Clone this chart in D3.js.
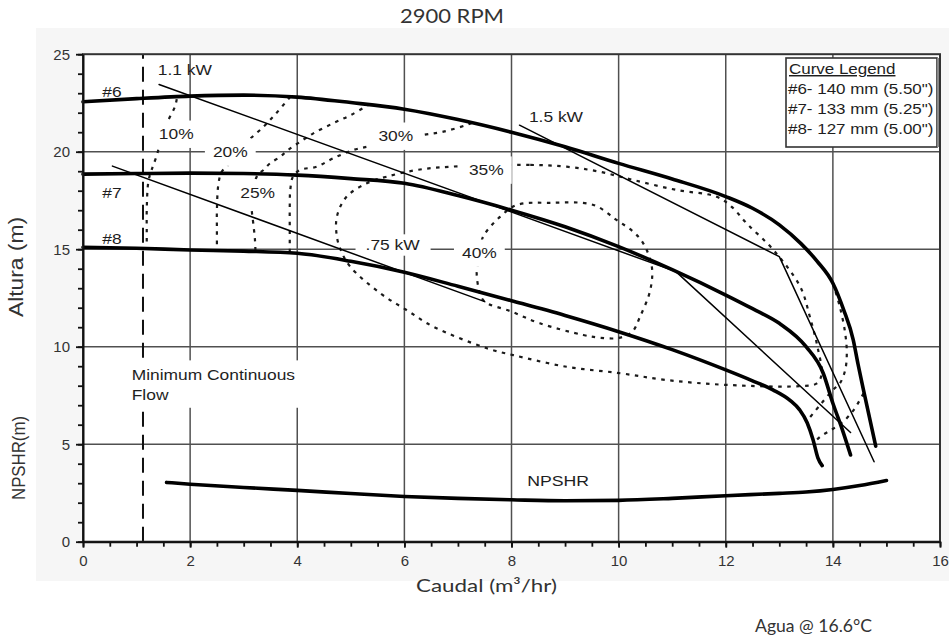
<!DOCTYPE html>
<html>
<head>
<meta charset="utf-8">
<script src="https://cdn.jsdelivr.net/npm/d3@7"></script>
<style>
  body { margin: 0; background: #fff; }
  svg { display: block; }
</style>
</head>
<body>
<svg></svg>
<script>
// Axis ticks
const flowTicks = [0, 2, 4, 6, 8, 10, 12, 14, 16];
const headTicks = [0, 5, 10, 15, 20, 25];
const flowGrid = [2, 4, 6, 8, 10, 12, 14];
const headGrid = [5, 10, 15, 20];

// Head curves [flow m3/hr, head m]
const curve6 = [[0, 22.56], [1, 22.72], [2, 22.85], [3, 22.9], [4, 22.8], [5, 22.52], [6, 22.18], [7, 21.65], [8, 21.0], [9, 20.25], [10, 19.4], [11, 18.6], [12, 17.7], [12.5, 17.1], [13, 16.25], [13.4, 15.3], [13.7, 14.4], [14.0, 13.25], [14.2, 11.9], [14.38, 10.35], [14.47, 9.1], [14.57, 7.8], [14.8, 4.9]];
const curve7 = [[0, 18.85], [1, 18.88], [2, 18.9], [3, 18.88], [4, 18.8], [5, 18.62], [6, 18.38], [7, 17.75], [8, 17.0], [9, 16.15], [10, 15.13], [11, 13.95], [12, 12.65], [12.5, 11.95], [13, 11.2], [13.5, 10.0], [13.82, 8.64], [14.0, 7.1], [14.17, 5.8], [14.33, 4.45]];
const curve8 = [[0, 15.1], [1, 15.05], [2, 14.96], [3, 14.9], [4, 14.79], [5, 14.38], [6, 13.82], [7, 13.1], [8, 12.36], [9, 11.6], [10, 10.77], [11, 9.85], [12, 8.81], [12.5, 8.25], [12.88, 7.79], [13.2, 7.25], [13.38, 6.76], [13.52, 6.1], [13.63, 5.23], [13.72, 4.3], [13.8, 3.9]];
const npshr = [[1.56, 3.04], [2, 2.95], [3, 2.78], [4, 2.63], [5, 2.47], [6, 2.32], [7, 2.22], [8, 2.15], [9, 2.1], [10, 2.12], [11, 2.22], [12, 2.36], [13, 2.48], [13.5, 2.55], [14, 2.68], [14.5, 2.88], [15, 3.14]];

// Power lines
const power075 = [[0.55, 19.26], [7.5, 12.31]];
const power11 = [[1.42, 23.45], [11.07, 13.85], [14.33, 5.6]];
const power15 = [[8.15, 21.36], [13.0, 14.62], [14.77, 4.1]];

// Efficiency lines
const eff10 = [[1.75, 22.7], [1.72, 22.34], [1.59, 21.6], [1.48, 20.9], [1.38, 19.83], [1.28, 19.06], [1.22, 18.46], [1.19, 17.0], [1.19, 16.0], [1.19, 15.1]];
const eff20 = [[3.87, 22.82], [3.6, 21.95], [3.37, 21.28], [3.1, 20.6], [2.88, 19.9], [2.7, 19.3], [2.59, 18.97], [2.53, 18.38], [2.5, 17.0], [2.5, 16.0], [2.5, 14.96]];
const eff25 = [[5.36, 22.45], [5.0, 21.88], [4.67, 21.46], [4.3, 20.94], [4.05, 20.5], [3.83, 20.09], [3.68, 19.74], [3.49, 19.4], [3.37, 19.06], [3.27, 18.85], [3.18, 18.2], [3.14, 17.6], [3.15, 17.0], [3.18, 16.3], [3.21, 15.5], [3.22, 14.9]];
const eff25b = [[14.57, 7.6], [14.4, 6.8], [14.19, 6.15], [13.95, 5.7], [13.76, 5.38], [13.66, 5.1]];
const eff30 = [[3.86, 14.85], [3.86, 16.0], [3.86, 17.2], [3.87, 18.04], [3.92, 18.72], [4.05, 19.06], [4.36, 19.23], [4.67, 19.66], [5.05, 20.09], [5.39, 20.3], [5.9, 20.6], [6.35, 20.86], [6.73, 21.03], [7.16, 21.37], [7.28, 21.5]];
const eff30b = [[14.0, 13.25], [14.13, 12.05], [14.23, 10.69], [14.26, 9.66], [14.23, 8.8], [14.13, 8.12], [14.0, 7.78], [13.76, 7.01], [13.52, 6.2]];
const eff35 = [[6.85, 19.23], [8.35, 19.32], [9.03, 19.23], [9.65, 18.97], [10.27, 18.55], [11.08, 18.04], [11.83, 17.69], [12.1, 17.2], [12.4, 16.3], [12.89, 14.96], [13.39, 13.08], [13.57, 11.54], [13.72, 9.9], [13.79, 8.6], [13.7, 8.12], [13.39, 7.98], [12.02, 8.04], [10.9, 8.29], [10.03, 8.64], [9.03, 8.97], [8.03, 9.57], [7.54, 9.92], [6.54, 11.03], [6.04, 11.88], [5.55, 12.74], [4.99, 14.1], [4.82, 14.9], [4.74, 15.64], [4.74, 16.67], [4.92, 17.69], [5.3, 18.38], [5.67, 18.72], [6.23, 19.06]];
const eff40 = [[7.37, 14.1], [7.42, 15.0], [7.47, 15.64], [7.79, 16.67], [8.1, 17.27], [8.72, 17.38], [9.53, 17.27], [9.96, 16.5], [10.27, 15.9], [10.46, 15.3], [10.62, 14.1], [10.59, 12.9], [10.4, 11.54], [10.25, 10.75], [10.0, 10.45], [9.65, 10.46], [9.34, 10.6], [8.53, 11.2], [8.0, 11.8], [7.5, 12.31], [7.41, 12.74], [7.35, 13.76]];

const minFlow = 1.12;

// Annotations [text, flow, head]
const effLabels = [["10%", 1.74, 20.9], ["20%", 2.75, 19.98], ["25%", 3.26, 17.88], ["30%", 5.84, 20.8], ["35%", 7.53, 19.06], ["40%", 7.4, 14.8]];
const powerLabels = [["1.1 kW", 1.9, 24.19], ["1.5 kW", 8.83, 21.78], [".75 kW", 5.78, 15.22]];
const curveLabels = [["#6", 0.54, 23.06], ["#7", 0.54, 17.88], ["#8", 0.54, 15.52]];
const legendTitle = "Curve Legend";
const legendItems = ['#6- 140 mm (5.50")', '#7- 133 mm (5.25")', '#8- 127 mm (5.00")'];

const width = 949;
const height = 639;
const ARIAL = "'Liberation Sans', Arial, sans-serif";
const GILL = "Lato, 'Open Sans', sans-serif";

const svg = d3.select("svg").attr("width", width).attr("height", height);

const x = d3.scaleLinear().domain([0, 16]).range([83, 940]);
const y = d3.scaleLinear().domain([0, 25]).range([541.7, 54.2]);

// faint scan background around the plot, plot area white
svg.append("rect").attr("x", 36).attr("y", 28).attr("width", 913).attr("height", 553).attr("fill", "#f6f6f6");
svg.append("rect").attr("x", x(0)).attr("y", y(25)).attr("width", x(16) - x(0)).attr("height", y(0) - y(25)).attr("fill", "#fff");

// grid
const grid = svg.append("g").attr("stroke", "#505050").attr("stroke-width", 1.5);
grid.selectAll(".gx").data(flowGrid).join("line")
  .attr("x1", d => x(d)).attr("x2", d => x(d)).attr("y1", y(0)).attr("y2", y(25));
grid.selectAll(".gy").data(headGrid).join("line")
  .attr("x1", x(0)).attr("x2", x(16)).attr("y1", d => y(d)).attr("y2", d => y(d));

// minimum continuous flow
svg.append("line")
  .attr("x1", x(minFlow)).attr("x2", x(minFlow)).attr("y1", y(0)).attr("y2", y(25))
  .attr("stroke", "#111").attr("stroke-width", 2).attr("stroke-dasharray", "15,8");

// efficiency lines
const smooth = d3.line().x(d => x(d[0])).y(d => y(d[1])).curve(d3.curveCatmullRom.alpha(0.5));
const smoothClosed = d3.line().x(d => x(d[0])).y(d => y(d[1])).curve(d3.curveCatmullRomClosed.alpha(0.5));
const effGroup = svg.append("g").attr("fill", "none").attr("stroke", "#1a1a1a")
  .attr("stroke-width", 2.2).attr("stroke-dasharray", "3.5,5.5");
[eff10, eff20, eff25, eff25b, eff30, eff30b].forEach(d => effGroup.append("path").attr("d", smooth(d)));
[eff35, eff40].forEach(d => effGroup.append("path").attr("d", smoothClosed(d)));

// text helper, the scan is stretched sideways so glyphs get a x scale
function addText(parent, px, py, str, size, sx, anchor, pad) {
  const g = parent.append("g").attr("transform", `translate(${px},${py}) scale(${sx},1)`);
  const box = pad ? g.append("rect").attr("fill", "#fff") : null;
  const t = g.append("text")
    .attr("text-anchor", anchor)
    .attr("dy", "0.35em")
    .attr("font-family", ARIAL)
    .attr("font-size", size)
    .attr("fill", "#1e1e1e")
    .text(str);
  if (box) {
    const b = t.node().getBBox();
    box.attr("x", b.x - pad[0] / sx).attr("y", b.y - pad[1])
      .attr("width", b.width + (2 * pad[0]) / sx).attr("height", b.height + 2 * pad[1]);
  }
  return t;
}

const labels = svg.append("g");
effLabels.forEach(d => addText(labels, x(d[1]), y(d[2]), d[0], 14.5, 1.2, "middle", [8, 6]));
powerLabels.forEach((d, i) => addText(labels, x(d[1]), y(d[2]), d[0], 14.5, 1.2, "middle", i === 2 ? [10, 3] : null));
curveLabels.forEach(d => addText(labels, x(d[1]), y(d[2]), d[0], 14.5, 1.2, "middle", null));
addText(labels, x(8.87), y(3.11), "NPSHR", 14.5, 1.22, "middle", null);

// minimum flow note, two lines on one white box
const mf = labels.append("g").attr("transform", `translate(${x(0.91)},${y(8.55)}) scale(1.2,1)`);
const mfBox = mf.append("rect").attr("fill", "#fff");
const mfText = mf.append("text").attr("font-family", ARIAL).attr("font-size", 14.5).attr("fill", "#1e1e1e").attr("dy", "0.35em");
mfText.append("tspan").attr("x", 0).text("Minimum Continuous");
mfText.append("tspan").attr("x", 0).attr("dy", 20).text("Flow");
const mfb = mfText.node().getBBox();
mfBox.attr("x", mfb.x - 5).attr("y", mfb.y - 7).attr("width", mfb.width + 10).attr("height", mfb.height + 12);

// curve legend
const legend = svg.append("g");
legend.append("rect").attr("x", 786).attr("y", 58).attr("width", 151).attr("height", 89)
  .attr("fill", "#fff").attr("stroke", "#333").attr("stroke-width", 1.6);
legend.append("line").attr("x1", 938.5).attr("x2", 938.5).attr("y1", 58).attr("y2", 147)
  .attr("stroke", "#888").attr("stroke-width", 3);
addText(legend, 789, 69, legendTitle, 14.5, 1.17, "start", null).attr("text-decoration", "underline");
legendItems.forEach((d, i) => addText(legend, 788, 89 + i * 20, d, 14.5, 1.17, "start", null));

// pump curves
const smoothX = d3.line().x(d => x(d[0])).y(d => y(d[1])).curve(d3.curveMonotoneX);
const straight = d3.line().x(d => x(d[0])).y(d => y(d[1]));
const curves = svg.append("g").attr("fill", "none").attr("stroke", "#000").attr("stroke-linecap", "round");
[curve6, curve7, curve8, npshr].forEach(d =>
  curves.append("path").attr("d", smoothX(d)).attr("stroke-width", 3.6));
[power075, power11, power15].forEach(d =>
  curves.append("path").attr("d", straight(d)).attr("stroke-width", 1.5).attr("stroke-linejoin", "round"));

// frame
svg.append("rect").attr("x", x(0)).attr("y", y(25)).attr("width", x(16) - x(0)).attr("height", y(0) - y(25))
  .attr("fill", "none").attr("stroke", "#333").attr("stroke-width", 2);

// axes
function styleAxis(g) {
  g.select(".domain").attr("stroke", "#111").attr("stroke-width", 2);
  g.selectAll(".tick line").attr("stroke", "#111").attr("stroke-width", 1.8);
  g.selectAll(".tick text").attr("font-family", ARIAL).attr("font-size", 15).attr("fill", "#333");
}

svg.append("g").attr("transform", `translate(0,${y(0)})`)
  .call(d3.axisBottom(x).tickValues(d3.range(0, 16.01, 0.5)).tickSize(5).tickFormat(""))
  .call(g => g.select(".domain").remove())
  .call(styleAxis);
svg.append("g").attr("transform", `translate(0,${y(0)})`)
  .call(d3.axisBottom(x).tickValues(flowTicks).tickSize(6).tickSizeOuter(0).tickPadding(8))
  .call(styleAxis);

svg.append("g").attr("transform", `translate(${x(0)},0)`)
  .call(d3.axisLeft(y).tickValues(d3.range(0, 25.01, 1)).tickSize(5).tickFormat(""))
  .call(g => g.select(".domain").remove())
  .call(styleAxis);
svg.append("g").attr("transform", `translate(${x(0)},0)`)
  .call(d3.axisLeft(y).tickValues(headTicks).tickSize(7).tickSizeOuter(0).tickPadding(6))
  .call(styleAxis);

// titles
svg.append("text").attr("x", 400).attr("y", 23)
  .attr("font-family", GILL).attr("font-size", 20).attr("fill", "#333")
  .attr("textLength", 104).attr("lengthAdjust", "spacingAndGlyphs")
  .text("2900 RPM");

svg.append("text").attr("x", 416).attr("y", 592)
  .attr("font-family", GILL).attr("font-size", 18).attr("fill", "#333")
  .attr("textLength", 141).attr("lengthAdjust", "spacingAndGlyphs")
  .text("Caudal (m³/hr)");

svg.append("text").attr("x", 755).attr("y", 632)
  .attr("font-family", GILL).attr("font-size", 16.5).attr("fill", "#333")
  .attr("textLength", 117).attr("lengthAdjust", "spacingAndGlyphs")
  .text("Agua @ 16.6°C");

svg.append("text").attr("transform", "translate(23,267) rotate(-90)")
  .attr("text-anchor", "middle")
  .attr("font-family", ARIAL).attr("font-size", 20).attr("fill", "#333")
  .attr("textLength", 100).attr("lengthAdjust", "spacingAndGlyphs")
  .text("Altura (m)");

svg.append("text").attr("transform", "translate(25,458) rotate(-90)")
  .attr("text-anchor", "middle")
  .attr("font-family", ARIAL).attr("font-size", 18).attr("fill", "#333")
  .attr("textLength", 84).attr("lengthAdjust", "spacingAndGlyphs")
  .text("NPSHR(m)");
</script>
</body>
</html>
